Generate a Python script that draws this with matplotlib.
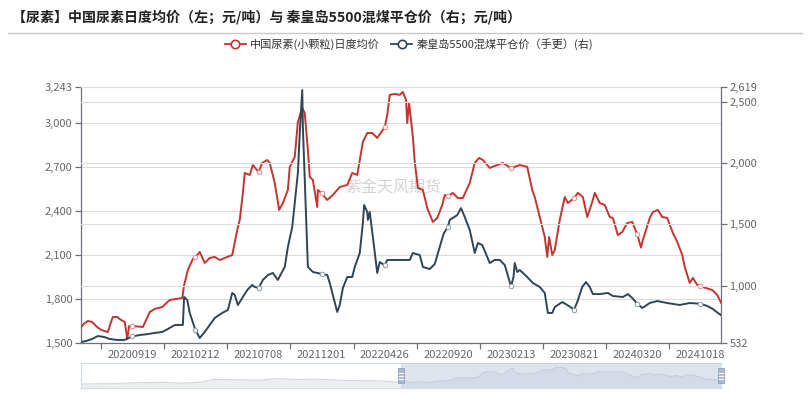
import matplotlib
matplotlib.use("Agg")
import matplotlib.pyplot as plt
from matplotlib.lines import Line2D
from matplotlib.patches import Rectangle
from matplotlib.ticker import FuncFormatter, FixedLocator
import matplotlib.transforms as mtransforms

plt.rcParams['font.family'] = ['Noto Sans CJK SC', 'DejaVu Sans']

TITLE = "【尿素】中国尿素日度均价（左；元/吨）与 秦皇岛5500混煤平仓价（右；元/吨）"
NAME_UREA = "中国尿素(小颗粒)日度均价"
NAME_COAL = "秦皇岛5500混煤平仓价（手更）(右)"
WATERMARK = "紫金天风期货"

# category labels and their trading-day index
date_labels = ["20200919", "20210212", "20210708", "20211201", "20220426",
               "20220920", "20230213", "20230821", "20240320", "20241018"]
label_days = [82, 183, 284, 385, 486, 587, 688, 789, 890, 991]
n_days = 1024

# urea daily average price (left axis), trading-day index -> yuan/t
urea_day = [0, 6, 11, 18, 24, 30, 37, 43, 48, 51, 58, 64, 70, 74, 77, 82, 99, 110, 118, 130,
            142, 152, 162, 165, 171, 179, 183, 186, 190, 198, 206, 214, 222, 234, 242, 250,
            254, 259, 262, 270, 275, 284, 290, 298, 302, 310, 317, 323, 331, 334, 342, 347,
            354, 358, 363, 366, 371, 378, 379, 385, 394, 403, 414, 426, 434, 442, 451, 458,
            466, 474, 486, 490, 494, 502, 510, 515, 520, 522, 525, 531, 534, 539, 547, 554,
            563, 570, 578, 582, 587, 595, 603, 611, 622, 630, 637, 643, 654, 666, 675, 688,
            702, 714, 722, 726, 734, 742, 746, 749, 754, 758, 766, 774, 779, 789, 795, 803,
            810, 818, 822, 830, 838, 846, 851, 859, 866, 874, 882, 890, 896, 899, 910, 915,
            923, 930, 938, 947, 954, 962, 966, 974, 979, 986, 991, 995, 1010, 1018, 1024]
urea_val = [1609, 1636, 1650, 1643, 1616, 1595, 1582, 1575, 1643, 1677, 1677, 1657, 1643, 1527,
            1616, 1616, 1609, 1711, 1732, 1745, 1793, 1800, 1806, 1895, 1997, 2072, 2085, 2099,
            2120, 2045, 2079, 2086, 2065, 2086, 2099, 2270, 2338, 2522, 2658, 2644, 2712, 2664,
            2726, 2746, 2726, 2590, 2406, 2453, 2542, 2699, 2767, 3005, 3100, 3066, 2814, 2630,
            2610, 2426, 2542, 2520, 2474, 2508, 2562, 2576, 2658, 2644, 2869, 2930, 2930, 2896,
            2970, 3053, 3189, 3196, 3189, 3209, 3155, 2998, 3134, 2903, 2733, 2556, 2542, 2419,
            2324, 2351, 2440, 2508, 2500, 2522, 2487, 2487, 2590, 2726, 2760, 2746, 2692, 2712,
            2726, 2690, 2712, 2699, 2542, 2494, 2358, 2222, 2086, 2222, 2099, 2133, 2338, 2494,
            2453, 2487, 2522, 2494, 2358, 2460, 2522, 2453, 2440, 2358, 2351, 2235, 2256, 2317,
            2324, 2240, 2150, 2201, 2351, 2392, 2406, 2358, 2351, 2249, 2188, 2099, 2018, 1909,
            1943, 1895, 1890, 1881, 1861, 1827, 1775]

# Qinhuangdao 5500 coal price (right axis)
coal_day = [0, 8, 18, 27, 37, 46, 59, 69, 82, 94, 107, 118, 130, 139, 150, 163, 165, 170, 174,
            183, 190, 198, 206, 214, 226, 235, 242, 246, 251, 259, 266, 274, 278, 284, 291, 299,
            307, 315, 326, 331, 338, 342, 347, 350, 354, 355, 360, 363, 371, 385, 394, 398, 405,
            410, 414, 419, 426, 434, 438, 446, 451, 453, 458, 459, 462, 467, 474, 478, 486, 490,
            510, 526, 531, 542, 547, 558, 566, 574, 580, 587, 590, 602, 608, 614, 622, 630, 635,
            642, 650, 654, 662, 670, 678, 688, 692, 694, 698, 702, 714, 723, 734, 742, 747, 754,
            758, 770, 778, 789, 794, 802, 808, 814, 819, 830, 843, 851, 867, 875, 882, 890, 898,
            910, 922, 938, 958, 974, 991, 1002, 1011, 1019, 1024]
coal_val = [540, 548, 565, 589, 581, 565, 556, 556, 585, 597, 605, 614, 622, 646, 679, 679, 907,
            883, 777, 638, 573, 622, 679, 736, 777, 801, 940, 923, 842, 907, 964, 1005, 989, 980,
            1046, 1086, 1103, 1046, 1152, 1315, 1478, 1673, 1918, 2244, 2594, 2293, 1592, 1152,
            1111, 1095, 1086, 1021, 883, 785, 842, 980, 1070, 1070, 1152, 1266, 1510, 1657, 1600,
            1535, 1600, 1396, 1103, 1192, 1165, 1209, 1209, 1209, 1266, 1249, 1152, 1135, 1176,
            1315, 1420, 1480, 1535, 1575, 1632, 1559, 1453, 1266, 1347, 1331, 1233, 1184, 1209,
            1209, 1168, 995, 1070, 1184, 1111, 1127, 1070, 1021, 989, 940, 777, 777, 825, 866,
            842, 805, 866, 989, 1029, 989, 931, 931, 940, 915, 907, 931, 899, 852, 817, 858, 874,
            858, 842, 858, 852, 834, 809, 777, 760]

# urea history before the zoom window (slider preview only)
hist_day = [-1024, -910, -849, -758, -697, -636, -605, -529, -453, -392, -331, -270, -209,
            -148, -72, 0]
hist_val = [1430, 1470, 1560, 1600, 1510, 1640, 1900, 1880, 1850, 2000, 1900, 1950, 1850,
            1780, 1760, 1609]

RED = "#c23531"
NAVY = "#2f4554"
GRID = "#dcdcdc"
AXC = "#6e7079"
TXT = "#666666"

fig = plt.figure(figsize=(8.1, 3.95), dpi=100)
ax = fig.add_axes([81 / 810, 1 - 343 / 395, 640 / 810, 256 / 395])
ax2 = ax.twinx()

thousands = FuncFormatter(lambda v, p: f"{v:,.0f}")

ax.set_xlim(0, n_days)
ax.set_ylim(1500, 3243)
ax.yaxis.set_major_locator(FixedLocator([1500, 1800, 2100, 2400, 2700, 3000, 3243]))
ax.yaxis.set_major_formatter(thousands)
ax2.set_ylim(532, 2619)
ax2.yaxis.set_major_locator(FixedLocator([532, 1000, 1500, 2000, 2500, 2619]))
ax2.yaxis.set_major_formatter(thousands)

ax.grid(axis="y", color=GRID, lw=0.8, zorder=0)
ax2.grid(axis="y", color=GRID, lw=0.8, zorder=0)
ax.set_axisbelow(True)
ax2.set_axisbelow(True)

ax.text(0.4875, 0.605, WATERMARK, transform=ax.transAxes, ha="center", va="center",
        fontsize=11.5, color="#d2d2d2", zorder=1)

urea_marks = [urea_day.index(d) for d in label_days]
coal_marks = [coal_day.index(d) for d in label_days]
ax.plot(urea_day, urea_val, color=RED, lw=1.4, zorder=3,
        marker="o", markevery=urea_marks, ms=3.2, mfc="white", mec="#e39492", mew=0.8)
ax2.plot(coal_day, coal_val, color=NAVY, lw=1.4, zorder=3,
         marker="o", markevery=coal_marks, ms=3.2, mfc="white", mec="#97a2ab", mew=0.8)

# x axis: ticks between labels, labels centred on category
ax.xaxis.set_major_locator(FixedLocator([d - 50 for d in label_days]))
ax.xaxis.set_major_formatter(FuncFormatter(lambda v, p: ""))
ax.set_xticks(label_days, minor=True)
ax.set_xticklabels(date_labels, minor=True)
ax.tick_params(axis="x", which="major", length=4, color=AXC, width=0.9)
ax.tick_params(axis="x", which="minor", length=0, pad=5, labelsize=8, labelcolor=TXT)
ax.tick_params(axis="y", length=4, color=AXC, width=0.9, labelsize=8, labelcolor=TXT, pad=2)
ax2.tick_params(axis="y", length=4, color=AXC, width=0.9, labelsize=8, labelcolor=TXT, pad=2)

for a in (ax, ax2):
    a.spines["top"].set_visible(False)
    for s in ("left", "right", "bottom"):
        a.spines[s].set_color(AXC)
        a.spines[s].set_linewidth(0.9)
ax.spines["right"].set_visible(False)
ax2.spines["left"].set_visible(False)
ax2.spines["bottom"].set_visible(False)

# title + rule
fig.text(12 / 810, 1 - 17 / 395, TITLE, fontsize=10.1, fontweight="bold",
         color="#222222", va="center", ha="left")
fig.add_artist(Line2D([8 / 810, 802 / 810], [1 - 33 / 395] * 2, color="#c8c8c8", lw=1))

# legend
handles = [
    Line2D([], [], color=RED, lw=1.3, marker="o", ms=6, mfc="white", mec=RED, mew=1.2),
    Line2D([], [], color=NAVY, lw=1.3, marker="o", ms=6, mfc="white", mec=NAVY, mew=1.2),
]
fig.legend(handles, [NAME_UREA, NAME_COAL], loc="center", ncol=2,
           bbox_to_anchor=(409 / 810, 1 - 44 / 395), frameon=False, fontsize=8,
           handlelength=1.9, handletextpad=0.4, columnspacing=1.0, labelcolor="#333333")

# data-zoom slider preview
sl = fig.add_axes([81 / 810, 1 - 388 / 395, 640 / 810, 25 / 395])
sl.set_xlim(-n_days, n_days)
sl.set_ylim(1000, 3660)
sl.fill_between(hist_day, hist_val, 1000, color="#eceef1", lw=0, zorder=1)
sl.plot(hist_day, hist_val, color="#d3d6db", lw=0.8, zorder=2)
sl.fill_between(urea_day, urea_val, 1000, color="#eceef1", lw=0, zorder=1)
sl.plot(urea_day, urea_val, color="#d3d6db", lw=0.8, zorder=2)
sl.axvspan(0, n_days, color="#b7c4da", alpha=0.45, lw=0, zorder=3)
sl.set_xticks([])
sl.set_yticks([])
sl.set_autoscale_on(False)
for s in sl.spines.values():
    s.set_color("#d2dbee")
    s.set_linewidth(0.8)
trans = mtransforms.blended_transform_factory(sl.transData, sl.transAxes)
for hx in (0, n_days):
    sl.add_patch(Rectangle((hx - 9, 0.2), 18, 0.6, transform=trans, facecolor="#a9b9d0",
                           edgecolor="#8fa3bf", lw=0.6, zorder=5, clip_on=False))
    for gy in (0.38, 0.5, 0.62):
        sl.add_artist(Line2D([hx - 5, hx + 5], [gy, gy], transform=trans, color="white",
                             lw=0.8, zorder=6, clip_on=False))

fig.savefig("out.png", dpi=100)
